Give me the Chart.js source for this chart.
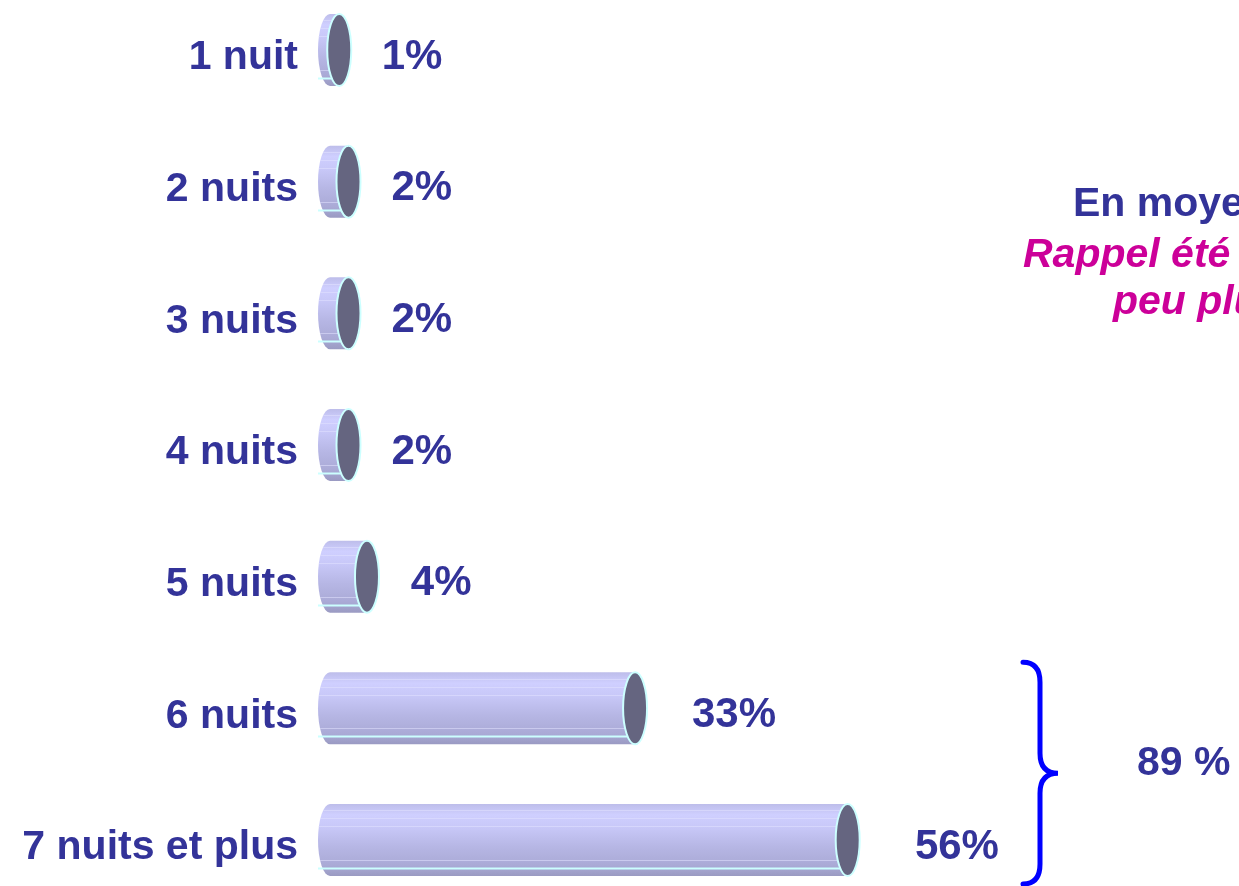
<!DOCTYPE html>
<html>
<head>
<meta charset="utf-8">
<script src="https://cdn.jsdelivr.net/npm/chart.js@4/dist/chart.umd.min.js"></script>
<style>
  html, body { margin: 0; padding: 0; background: #fff; }
  #wrap { width: 1239px; height: 886px; position: relative; }
</style>
</head>
<body>
<div id="wrap"><canvas id="chart"></canvas></div>
<script>
// ── Data ─────────────────────────────────
const categories = ['1 nuit', '2 nuits', '3 nuits', '4 nuits', '5 nuits', '6 nuits', '7 nuits et plus'];
const shares     = [1, 2, 2, 2, 4, 33, 56];
const totalLabel = '89 %';
const sideNotes  = ['En moyenne', 'Rappel été', 'peu plus'];

const FONT = "'Liberation Sans', Arial, sans-serif";
const NAVY = '#333399';

// ── Cylinders, labels, brace ─────────────
const cylinderPlugin = {
  id: 'cylinders',
  afterDatasetsDraw(chart) {
    const ctx  = chart.ctx;
    const meta = chart.getDatasetMeta(0);
    const rx   = 12;

    meta.data.forEach((bar, i) => {
      const { x, y, base, height } = bar.getProps(['x', 'y', 'base', 'height'], true);
      const ry  = height / 2;
      const top = y - ry, bot = y + ry;

      // body
      const grad = ctx.createLinearGradient(0, top, 0, bot);
      grad.addColorStop(0,    '#bdbdea');
      grad.addColorStop(0.15, '#cfcfff');
      grad.addColorStop(0.32, '#c8c8f8');
      grad.addColorStop(0.6,  '#b6b6e4');
      grad.addColorStop(0.85, '#aaaad6');
      grad.addColorStop(1,    '#9a9ac2');

      ctx.save();
      ctx.beginPath();
      ctx.moveTo(x, top);
      ctx.lineTo(base, top);
      ctx.ellipse(base, y, rx, ry, 0, -Math.PI / 2, Math.PI / 2, true);
      ctx.lineTo(x, bot);
      ctx.closePath();
      ctx.fillStyle = grad;
      ctx.fill();

      ctx.save();
      ctx.clip();
      ctx.strokeStyle = 'rgba(225,225,255,0.55)';
      ctx.lineWidth = 1;
      [0.09, 0.2, 0.31, 0.78, 0.89].forEach(f => {
        const ly = Math.round(top + f * height) + 0.5;
        ctx.beginPath();
        ctx.moveTo(base - rx, ly);
        ctx.lineTo(x, ly);
        ctx.stroke();
      });
      ctx.restore();

      ctx.strokeStyle = '#ccffff';
      ctx.lineWidth = 2;
      ctx.stroke();

      // end cap
      ctx.beginPath();
      ctx.ellipse(x, y, rx, ry, 0, 0, Math.PI * 2);
      ctx.fillStyle = '#656580';
      ctx.fill();
      ctx.stroke();
      ctx.restore();

      // value label
      ctx.save();
      ctx.font = `bold 42px ${FONT}`;
      ctx.fillStyle = NAVY;
      ctx.textAlign = 'left';
      ctx.textBaseline = 'middle';
      ctx.fillText(shares[i] + '%', x + 42 + shares[i] * 0.45, y + 7);

      // category label
      ctx.font = `bold 41px ${FONT}`;
      ctx.textAlign = 'right';
      ctx.fillText(categories[i], 298, y + 8);
      ctx.restore();
    });

    // brace over the last two rows
    const yScale = chart.scales.y;
    const bTop = yScale.getPixelForValue(5) - 46;
    const bBot = yScale.getPixelForValue(6) + 44;
    const mid  = (bTop + bBot) / 2;
    const bx = 1040, tipX = 1058, endX = 1023, c = 20;

    ctx.save();
    ctx.strokeStyle = '#0000ff';
    ctx.lineWidth = 5;
    ctx.lineCap = 'round';
    ctx.beginPath();
    ctx.moveTo(endX, bTop);
    ctx.quadraticCurveTo(bx, bTop, bx, bTop + c);
    ctx.lineTo(bx, mid - c);
    ctx.quadraticCurveTo(bx, mid, tipX, mid);
    ctx.quadraticCurveTo(bx, mid, bx, mid + c);
    ctx.lineTo(bx, bBot - c);
    ctx.quadraticCurveTo(bx, bBot, endX, bBot);
    ctx.stroke();

    ctx.font = `bold 41px ${FONT}`;
    ctx.fillStyle = NAVY;
    ctx.textAlign = 'left';
    ctx.textBaseline = 'middle';
    ctx.fillText(totalLabel, 1137, mid - 9);

    // side notes (cut by the right edge)
    ctx.fillText(sideNotes[0], 1073, 205);
    ctx.fillStyle = '#cc0099';
    ctx.font = `italic bold 41px ${FONT}`;
    ctx.fillText(sideNotes[1], 1023, 256);
    ctx.fillText(sideNotes[2], 1113, 303);
    ctx.restore();
  }
};

new Chart(document.getElementById('chart'), {
  type: 'bar',
  data: {
    labels: categories,
    datasets: [{
      data: shares,
      backgroundColor: 'rgba(0,0,0,0)',
      borderWidth: 0,
      barThickness: 72
    }]
  },
  options: {
    indexAxis: 'y',
    responsive: true,
    maintainAspectRatio: false,
    animation: false,
    events: [],
    layout: { padding: { left: 330, right: 77, top: 50, bottom: 46 } },
    plugins: {
      legend: { display: false },
      tooltip: { enabled: false }
    },
    scales: {
      x: { display: false, min: 0, max: 90 },
      y: { display: false, offset: false }
    }
  },
  plugins: [cylinderPlugin]
});
</script>
</body>
</html>
